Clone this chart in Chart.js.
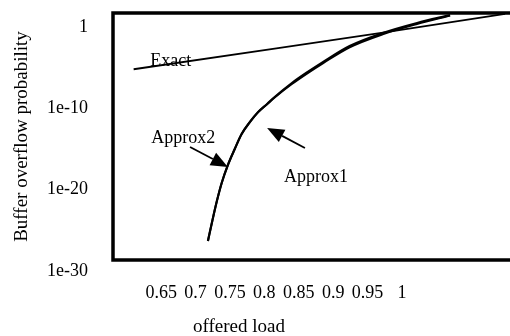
<!DOCTYPE html>
<html>
<head>
<meta charset="utf-8">
<script src="https://cdn.jsdelivr.net/npm/chart.js@4.4.1/dist/chart.umd.min.js"></script>
<style>
  html, body { margin: 0; padding: 0; background: #fff; overflow: hidden; }
</style>
</head>
<body>
<canvas id="grafico" width="520" height="336"></canvas>
<script>
// Datos (carga ofrecida vs probabilidad de desborde)
const cargaTicks = [0.65, 0.7, 0.75, 0.8, 0.85, 0.9, 0.95, 1];
const cargaEtiquetas = ['0.65', '0.7', '0.75', '0.8', '0.85', '0.9', '0.95', '1'];
const probTicks = [1e-30, 1e-20, 1e-10, 1];
const probEtiquetas = ['1e-30', '1e-20', '1e-10', '1'];

const cargaExact = [0.61, 0.82, 0.97, 1.15];
const probExact = [3e-7, 1.2e-4, 9e-3, 1.9];

const cargaApprox = [0.718, 0.724, 0.731, 0.738, 0.747, 0.757, 0.767, 0.779, 0.791, 0.804, 0.815, 0.840, 0.863, 0.885, 0.924, 0.972, 1.022, 1.070];
const probApprox1 = [2.2e-28, 4.8e-26, 1.8e-23, 3e-21, 4.9e-19, 4.6e-17, 3.2e-15, 9.6e-14, 1.6e-12, 1.6e-11, 1.15e-10, 6e-9, 1.4e-7, 2.3e-6, 2.2e-4, 8.7e-3, 0.15, 1.4];
const probApprox2 = [2.2e-28, 4.8e-26, 1.8e-23, 3e-21, 4.9e-19, 4.6e-17, 3.2e-15, 9.6e-14, 1.6e-12, 1.5e-11, 1e-10, 4.5e-9, 1e-7, 1.6e-6, 1.5e-4, 6e-3, 0.11, 1.2];

// Textos y flechas del grafico (en unidades de los ejes)
const notas = [
    { texto: 'Exact', carga: 0.664, prob: 3e-6 },
    { texto: 'Approx2', carga: 0.682, prob: 1e-15 },
    { texto: 'Approx1', carga: 0.875, prob: 1.7e-20 }
];
const flechas = [
    { desde: [0.692, 8e-17], hasta: [0.747, 2.8e-19] },
    { desde: [0.859, 6e-17], hasta: [0.804, 1.8e-14] }
];
const tituloX = 'offered load';

const fuente = '"Liberation Serif", "DejaVu Serif", serif';

function puntos(xs, ys) {
    return xs.map((x, i) => ({ x: x, y: ys[i] }));
}

// Marco del area de datos + textos, flechas y titulo del eje x
const marcoYNotas = {
    id: 'marcoYNotas',
    afterDatasetsDraw(chart) {
        const { ctx, chartArea: a, scales: { x, y } } = chart;
        ctx.save();
        ctx.strokeStyle = '#000';
        ctx.lineWidth = 3.5;
        ctx.strokeRect(a.left, a.top, a.right - a.left, a.bottom - a.top);

        ctx.font = '18px ' + fuente;
        ctx.fillStyle = '#000';
        ctx.textAlign = 'center';
        ctx.textBaseline = 'middle';
        notas.forEach(n => ctx.fillText(n.texto, x.getPixelForValue(n.carga), y.getPixelForValue(n.prob)));

        flechas.forEach(f => {
            const x0 = x.getPixelForValue(f.desde[0]), y0 = y.getPixelForValue(f.desde[1]);
            const x1 = x.getPixelForValue(f.hasta[0]), y1 = y.getPixelForValue(f.hasta[1]);
            const ang = Math.atan2(y1 - y0, x1 - x0);
            const largo = 17, ancho = 7;
            ctx.lineWidth = 1.8;
            ctx.beginPath();
            ctx.moveTo(x0, y0);
            ctx.lineTo(x1 - largo * Math.cos(ang), y1 - largo * Math.sin(ang));
            ctx.stroke();
            ctx.beginPath();
            ctx.moveTo(x1, y1);
            ctx.lineTo(x1 - largo * Math.cos(ang) + ancho * Math.sin(ang), y1 - largo * Math.sin(ang) - ancho * Math.cos(ang));
            ctx.lineTo(x1 - largo * Math.cos(ang) - ancho * Math.sin(ang), y1 - largo * Math.sin(ang) + ancho * Math.cos(ang));
            ctx.closePath();
            ctx.fill();
        });

        // titulo del eje x, corrido a la izquierda como en el original
        ctx.font = '19px ' + fuente;
        ctx.textBaseline = 'alphabetic';
        ctx.fillText(tituloX, a.left + 126, chart.height - 4);
        ctx.restore();
    }
};

document.addEventListener('DOMContentLoaded', () => {
    const ctx = document.getElementById('grafico').getContext('2d');
    new Chart(ctx, {
        type: 'line',
        data: {
            datasets: [{
                label: 'Exact',
                data: puntos(cargaExact, probExact),
                borderColor: '#000',
                borderWidth: 1.8,
                pointRadius: 0,
                tension: 0
            }, {
                label: 'Approx1',
                data: puntos(cargaApprox, probApprox1),
                borderColor: '#000',
                borderWidth: 2.2,
                pointRadius: 0,
                cubicInterpolationMode: 'monotone'
            }, {
                label: 'Approx2',
                data: puntos(cargaApprox, probApprox2),
                borderColor: '#000',
                borderWidth: 2,
                pointRadius: 0,
                cubicInterpolationMode: 'monotone'
            }]
        },
        options: {
            responsive: false,
            animation: false,
            layout: { padding: { left: 0, top: 13, right: 8, bottom: 0 } },
            plugins: {
                legend: { display: false },
                tooltip: { enabled: false }
            },
            scales: {
                x: {
                    type: 'linear',
                    min: 0.58,
                    max: 1.16,
                    grid: { display: false, drawTicks: false },
                    border: { display: false },
                    afterBuildTicks: s => { s.ticks = cargaTicks.map(v => ({ value: v })); },
                    afterFit: s => {
                        s.height = 76;
                        s.paddingLeft = 0;
                        s.paddingRight = 0;
                    },
                    ticks: {
                        autoSkip: false,
                        maxRotation: 0,
                        padding: 22,
                        color: '#000',
                        font: { family: fuente, size: 18 },
                        callback: v => cargaEtiquetas[cargaTicks.indexOf(v)]
                    }
                },
                y: {
                    type: 'logarithmic',
                    min: 1e-30,
                    max: Math.pow(10, 0.4),
                    grid: { display: false, drawTicks: false },
                    border: { display: false },
                    afterBuildTicks: s => { s.ticks = probTicks.map(v => ({ value: v })); },
                    afterFit: s => {
                        s.width = 113;
                        s.paddingTop = 0;
                        s.paddingBottom = 0;
                    },
                    ticks: {
                        autoSkip: false,
                        padding: 25,
                        labelOffset: 11,
                        color: '#000',
                        font: { family: fuente, size: 18 },
                        callback: v => probEtiquetas[probTicks.indexOf(v)]
                    },
                    title: {
                        display: true,
                        text: 'Buffer overflow probability',
                        color: '#000',
                        font: { family: fuente, size: 19 },
                        padding: { top: 11, bottom: 0 }
                    }
                }
            }
        },
        plugins: [marcoYNotas]
    });
});
</script>
</body>
</html>
